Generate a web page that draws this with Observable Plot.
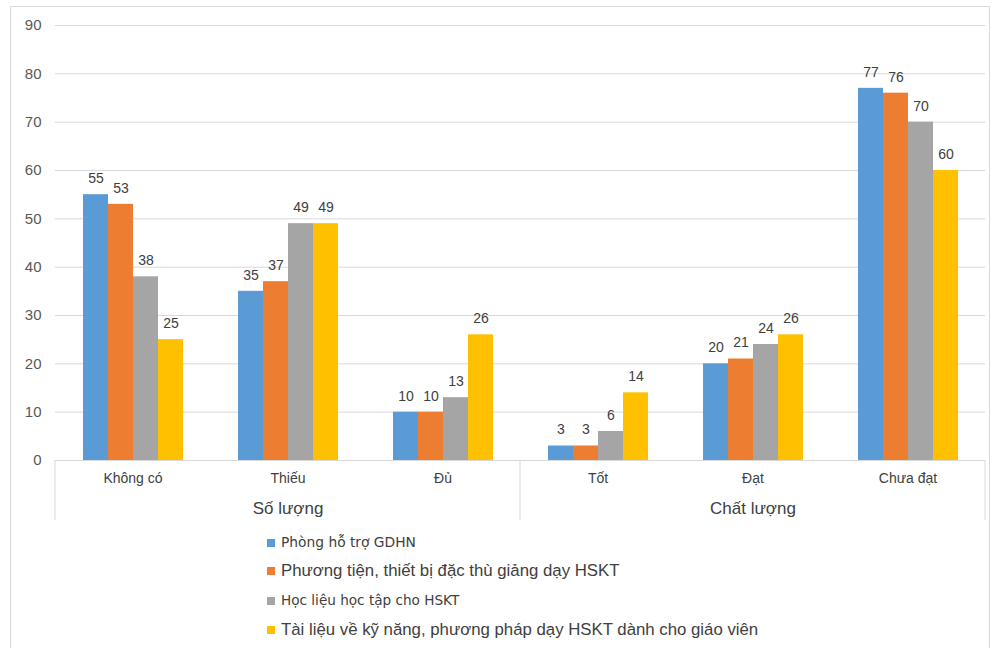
<!DOCTYPE html>
<html><head><meta charset="utf-8">
<script src="https://cdn.jsdelivr.net/npm/d3@7"></script>
<script src="https://cdn.jsdelivr.net/npm/@observablehq/plot@0.6"></script>
<style>
body{margin:0;background:#fff;font-family:"Liberation Sans",Arial,sans-serif;}
#wrap{position:relative;width:1000px;height:648px;overflow:hidden;background:#fff;}
#border{position:absolute;left:10px;top:6px;width:980px;height:700px;border:1px solid #d9d9d9;box-sizing:border-box;}
#chart{position:absolute;left:0;top:0;}
.row{position:absolute;left:267px;display:flex;align-items:center;color:#404040;white-space:nowrap;line-height:1;}
.sw{width:8px;height:8px;margin-right:6px;flex:none;}
</style></head>
<body>
<div id="wrap">
<div id="border"></div>
<div id="chart"></div>
</div>
<script>
const categories = ["Không có", "Thiếu", "Đủ", "Tốt", "Đạt", "Chưa đạt"];
const groupLabels = ["Số lượng", "Chất lượng"];
const groupCenters = ["Thiếu", "Đạt"];
const seriesNames = [
  "Phòng hỗ trợ GDHN",
  "Phương tiện, thiết bị đặc thù giảng dạy HSKT",
  "Học liệu học tập cho HSKT",
  "Tài liệu về kỹ năng, phương pháp dạy HSKT dành cho giáo viên"
];
const colors = ["#5b9bd5", "#ed7d31", "#a5a5a5", "#ffc000"];
const phong = [55, 35, 10, 3, 20, 77];
const phuongTien = [53, 37, 10, 3, 21, 76];
const hocLieu = [38, 49, 13, 6, 24, 70];
const taiLieu = [25, 49, 26, 14, 26, 60];
const yTicks = [0, 10, 20, 30, 40, 50, 60, 70, 80, 90];

const seriesValues = [phong, phuongTien, hocLieu, taiLieu];
const data = [];
categories.forEach((c, i) => {
  seriesNames.forEach((s, j) => data.push({cat: c, series: s, value: seriesValues[j][i]}));
});
const groupData = groupLabels.map((g, i) => ({cat: groupCenters[i], label: g}));

const chart = Plot.plot({
  width: 1000,
  height: 530,
  marginTop: 25,
  marginBottom: 70,
  marginLeft: 53,
  marginRight: 13,
  style: {fontFamily: "'Liberation Sans', Arial, sans-serif", background: "transparent"},
  fx: {domain: categories, padding: 0, axis: null},
  x: {domain: seriesNames, axis: null, paddingInner: 0, paddingOuter: 1.08},
  y: {domain: [0, 90], axis: null},
  color: {domain: seriesNames, range: colors},
  marks: [
    Plot.gridY(yTicks.filter(d => d > 0), {stroke: "#d9d9d9", strokeOpacity: 1}),
    Plot.axisY(yTicks, {tickSize: 0, tickPadding: 14, fontSize: 15, fill: "#595959", label: null}),
    Plot.ruleY([0], {stroke: "#d9d9d9"}),
    Plot.barY(data, {fx: "cat", x: "series", y: "value", fill: "series"}),
    Plot.text(data, {fx: "cat", x: "series", y: "value", text: d => String(d.value), dy: -16, fontSize: 14, fill: "#404040"}),
    Plot.text(categories, {fx: d => d, text: d => d, frameAnchor: "bottom", dy: 22, fontSize: 14, fill: "#404040"}),
    Plot.text(groupData, {fx: "cat", text: "label", frameAnchor: "bottom", dy: 53, fontSize: 17, fill: "#404040"})
  ]
});
document.getElementById("chart").appendChild(chart);

// category-axis separators, positioned with Plot's fx scale
const fx = chart.scale("fx");
const bw = fx.bandwidth;
const pos = c => fx.apply(c);
const sepX = [pos(categories[0]), pos(categories[3]), pos(categories[5]) + bw];
const y0 = chart.scale("y").apply(0);
const svg = d3.select(chart);
svg.append("g").selectAll("line").data(sepX).join("line")
  .attr("x1", d => d).attr("x2", d => d)
  .attr("y1", y0).attr("y2", y0 + 60)
  .attr("stroke", "#d9d9d9");

// legend
const legendTops = [543, 571, 601, 630];
const legendFonts = [["'DejaVu Sans'", 13.8], ["'Liberation Sans'", 16.8], ["'DejaVu Sans'", 13.6], ["'Liberation Sans'", 16.8]];
seriesNames.forEach((s, i) => {
  const row = document.createElement("div");
  row.className = "row";
  row.style.top = (legendTops[i] - 10) + "px";
  row.style.height = "20px";
  row.style.fontFamily = legendFonts[i][0];
  row.style.fontSize = legendFonts[i][1] + "px";
  const sw = document.createElement("span");
  sw.className = "sw";
  sw.style.background = colors[i];
  const t = document.createElement("span");
  t.textContent = s;
  row.appendChild(sw); row.appendChild(t);
  document.getElementById("wrap").appendChild(row);
});
</script>
</body></html>
